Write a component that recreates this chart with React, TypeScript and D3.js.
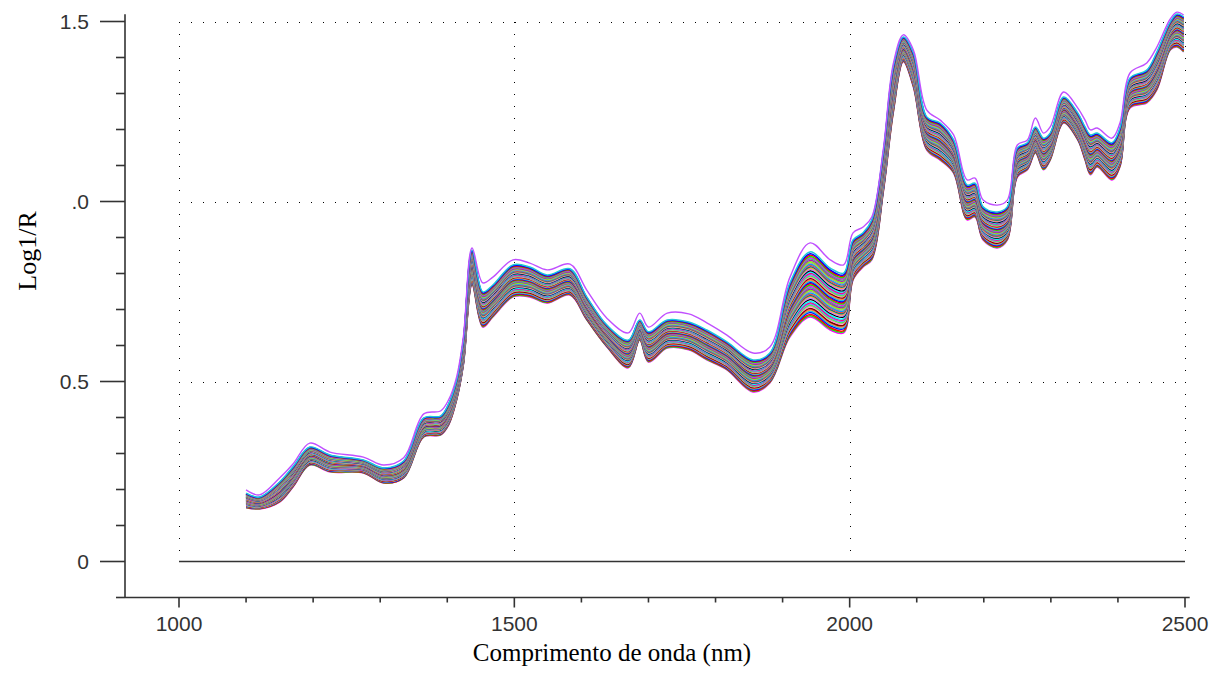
import React from 'react';
import * as d3 from 'd3';

const wavelengths = [
  1100, 1120, 1150, 1170, 1195, 1225, 1275, 1305, 1335, 1365, 1390, 1402, 1414, 1424,
  1437, 1453, 1468, 1498, 1523, 1549, 1583, 1608, 1638, 1670, 1687, 1700, 1728, 1760,
  1787, 1817, 1856, 1881, 1911, 1941, 1971, 1991, 2005, 2020, 2033, 2050, 2065, 2080,
  2095, 2115, 2135, 2155, 2175, 2187, 2199, 2220, 2235, 2250, 2265, 2277, 2289, 2299,
  2319, 2340, 2351, 2359, 2369, 2391, 2403, 2418, 2443, 2458, 2478, 2488, 2498,
];

// upper edge of the dense band of spectra (log 1/R)
const bandTop = [
  0.190, 0.179, 0.221, 0.263, 0.318, 0.296, 0.282, 0.260, 0.279, 0.399, 0.404, 0.438, 0.504, 0.615,
  0.865, 0.749, 0.768, 0.824, 0.818, 0.796, 0.813, 0.735, 0.657, 0.615, 0.671, 0.638, 0.671, 0.665,
  0.643, 0.610, 0.560, 0.579, 0.774, 0.860, 0.815, 0.801, 0.893, 0.913, 0.949, 1.135, 1.374, 1.457,
  1.413, 1.235, 1.218, 1.171, 1.046, 1.051, 0.985, 0.971, 0.985, 1.149, 1.163, 1.207, 1.176, 1.190,
  1.290, 1.246, 1.207, 1.185, 1.190, 1.163, 1.204, 1.343, 1.365, 1.415, 1.499, 1.521, 1.513,
];

// lower edge of the band
const bandBottom = [
  0.149, 0.146, 0.165, 0.207, 0.268, 0.249, 0.246, 0.218, 0.232, 0.346, 0.351, 0.379, 0.449, 0.546,
  0.768, 0.651, 0.679, 0.735, 0.735, 0.718, 0.740, 0.671, 0.596, 0.538, 0.615, 0.554, 0.593, 0.588,
  0.560, 0.532, 0.471, 0.496, 0.624, 0.679, 0.643, 0.635, 0.782, 0.818, 0.838, 1.024, 1.246, 1.388,
  1.318, 1.143, 1.115, 1.079, 0.949, 0.957, 0.893, 0.871, 0.893, 1.068, 1.088, 1.135, 1.088, 1.115,
  1.218, 1.171, 1.115, 1.074, 1.096, 1.060, 1.096, 1.260, 1.274, 1.310, 1.421, 1.429, 1.415,
];

// the single violet spectrum lying above the band
const outlierSpectrum = [
  0.199, 0.185, 0.232, 0.271, 0.329, 0.304, 0.290, 0.268, 0.288, 0.410, 0.418, 0.449, 0.513, 0.624,
  0.871, 0.774, 0.790, 0.838, 0.829, 0.810, 0.826, 0.754, 0.676, 0.635, 0.690, 0.651, 0.690, 0.688,
  0.663, 0.629, 0.579, 0.596, 0.790, 0.885, 0.838, 0.824, 0.913, 0.929, 0.957, 1.143, 1.382, 1.463,
  1.421, 1.254, 1.226, 1.185, 1.060, 1.065, 1.004, 0.990, 1.004, 1.157, 1.171, 1.232, 1.190, 1.207,
  1.304, 1.260, 1.226, 1.199, 1.204, 1.176, 1.218, 1.357, 1.385, 1.429, 1.507, 1.526, 1.518,
];

// where each of the other spectra sits inside the band (0 = bottom edge, 1 = top edge)
const spectrumLevels = [
  0.00, 0.02, 0.04, 0.07, 0.09, 0.11, 0.13, 0.16, 0.18, 0.20, 0.22, 0.24, 0.27, 0.29, 0.31,
  0.33, 0.35, 0.37, 0.39, 0.41, 0.43, 0.45, 0.47, 0.49, 0.51, 0.53, 0.55, 0.57, 0.59, 0.61,
  0.63, 0.65, 0.67, 0.69, 0.71, 0.73, 0.75, 0.77, 0.79, 0.81, 0.83, 0.85, 0.87, 0.89, 0.91,
  0.93, 0.95, 0.97, 1.00,
];

const lineColors = [
  '#FF00FF', '#00FF00', '#FF0000', '#0000FF', '#20C8D8', '#FF8040', '#800000', '#FF80C0',
  '#40FF40', '#8080FF', '#FF0080', '#00FFFF', '#000000', '#C080FF', '#FFA040', '#008080',
  '#FF4040', '#00A0FF', '#A0A0A0', '#80FF00', '#C000C0', '#40C080',
];

const yTickValues = [0, 0.5, 1.0, 1.5];
const yTickLabels = ['0', '0.5', '.0', '1.5'];
const yMinorTicks = [-0.1, 0.1, 0.2, 0.3, 0.4, 0.6, 0.7, 0.8, 0.9, 1.1, 1.2, 1.3, 1.4];
const xTickValues = [1000, 1500, 2000, 2500];
const xMinorTicks = [1100, 1200, 1300, 1400, 1600, 1700, 1800, 1900, 2100, 2200, 2300, 2400];

const W = 1210;
const H = 689;

const App = () => {
  const x = d3.scaleLinear().domain([1000, 2500]).range([179, 1185]);
  const y = d3.scaleLinear().domain([0, 1.5]).range([561.5, 21.5]);

  const axisLeft = 125;
  const axisBottom = y(-0.1);
  const axisTop = y(1.52);
  const axisRight = x(2507);

  const line = d3.line<number>()
    .x((_, i) => x(wavelengths[i]))
    .y((d) => y(d))
    .curve(d3.curveCatmullRom.alpha(0.5));

  // each spectrum is placed in the band by its level
  const spectra = spectrumLevels.map((lv) =>
    bandBottom.map((b, i) => b + lv * (bandTop[i] - b))
  );

  const tickFont = '"Liberation Sans", Arial, sans-serif';
  const labelFont = '"Liberation Serif", "Times New Roman", serif';

  return (
    <svg
      width={W}
      height={H}
      style={{ position: 'absolute', left: 0, top: 0, background: '#fff' }}
    >
      {/* dotted grid */}
      <g stroke="#000" strokeWidth={1} strokeDasharray="1 11" shapeRendering="crispEdges">
        {yTickValues.filter((v) => v > 0).map((v) => (
          <line key={`gy${v}`} x1={x(1000)} x2={x(2500) + 1} y1={Math.round(y(v))} y2={Math.round(y(v))} />
        ))}
        {xTickValues.map((v) => (
          <line key={`gx${v}`} x1={Math.round(x(v))} x2={Math.round(x(v))} y1={y(1.5)} y2={y(0)} />
        ))}
      </g>

      {/* zero line */}
      <line x1={x(1000)} x2={x(2500)} y1={y(0)} y2={y(0)} stroke="#333" strokeWidth={1.6} />

      {/* spectra */}
      <g fill="none" strokeWidth={1.5}>
        {spectra.map((s, i) => (
          <path key={i} d={line(s) || ''} stroke={lineColors[i % lineColors.length]} />
        ))}
        <path d={line(outlierSpectrum) || ''} stroke="#C050FF" strokeWidth={1.4} />
      </g>

      {/* axes */}
      <g stroke="#333" strokeWidth={1.6}>
        <line x1={axisLeft} x2={axisLeft} y1={axisTop} y2={axisBottom} />
        <line x1={axisLeft} x2={axisRight} y1={axisBottom} y2={axisBottom} />
        {yTickValues.map((v) => (
          <line key={`ty${v}`} x1={axisLeft - 25} x2={axisLeft} y1={y(v)} y2={y(v)} />
        ))}
        {yMinorTicks.map((v) => (
          <line key={`my${v}`} x1={axisLeft - 9} x2={axisLeft} y1={y(v)} y2={y(v)} />
        ))}
        {xTickValues.map((v) => (
          <line key={`tx${v}`} x1={x(v)} x2={x(v)} y1={axisBottom} y2={axisBottom + 10} />
        ))}
        {xMinorTicks.map((v) => (
          <line key={`mx${v}`} x1={x(v)} x2={x(v)} y1={axisBottom} y2={axisBottom + 5} />
        ))}
      </g>

      {/* tick labels */}
      <g fill="#333" fontFamily={tickFont} fontSize={21}>
        {yTickValues.map((v, i) => (
          <text key={`ly${v}`} x={89} y={y(v)} dy="0.36em" textAnchor="end">
            {yTickLabels[i]}
          </text>
        ))}
        {xTickValues.map((v) => (
          <text key={`lx${v}`} x={x(v)} y={axisBottom + 33} textAnchor="middle">
            {v}
          </text>
        ))}
      </g>

      {/* axis titles */}
      <text
        x={612}
        y={661}
        textAnchor="middle"
        fontFamily={labelFont}
        fontSize={25}
        fill="#000"
      >
        Comprimento de onda (nm)
      </text>
      <text
        transform="translate(36, 251) rotate(-90)"
        textAnchor="middle"
        fontFamily={labelFont}
        fontSize={26}
        fill="#000"
      >
        Log1/R
      </text>
    </svg>
  );
};

export default App;
